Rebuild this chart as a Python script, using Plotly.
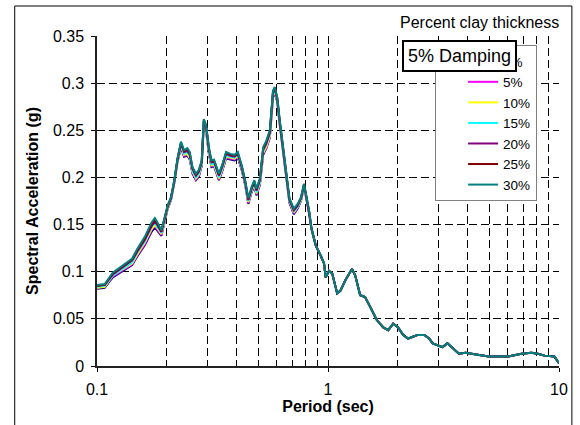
import plotly.graph_objects as go

# Response spectra (5% damping) for increasing clay layer thickness.
# Periods where the spectra separate (T < 0.85 s)
period_head = [0.100, 0.108, 0.117, 0.130, 0.142, 0.150, 0.161, 0.172, 0.178, 0.183,
               0.190, 0.202, 0.209, 0.216, 0.223, 0.231, 0.238, 0.246, 0.252, 0.259,
               0.268, 0.276, 0.284, 0.290, 0.297, 0.305, 0.313, 0.321, 0.329, 0.337,
               0.348, 0.362, 0.378, 0.394, 0.407, 0.423, 0.438, 0.452, 0.467, 0.480,
               0.490, 0.507, 0.524, 0.541, 0.560, 0.578, 0.588, 0.603, 0.618, 0.638,
               0.659, 0.681, 0.711, 0.739, 0.764, 0.787, 0.802, 0.829, 0.848]

sa_0 = [0.082, 0.083, 0.094, 0.101, 0.107, 0.117, 0.128, 0.142, 0.147, 0.143,
        0.138, 0.166, 0.176, 0.194, 0.216, 0.232, 0.222, 0.223, 0.219, 0.204,
        0.197, 0.201, 0.212, 0.256, 0.248, 0.225, 0.211, 0.212, 0.204, 0.197,
        0.206, 0.220, 0.219, 0.218, 0.221, 0.208, 0.192, 0.172, 0.184, 0.191,
        0.181, 0.192, 0.224, 0.231, 0.242, 0.285, 0.290, 0.280, 0.256, 0.227,
        0.199, 0.173, 0.161, 0.167, 0.175, 0.190, 0.180, 0.162, 0.145]
sa_5 = [0.083, 0.084, 0.095, 0.102, 0.108, 0.118, 0.129, 0.144, 0.149, 0.144,
        0.139, 0.167, 0.176, 0.194, 0.217, 0.233, 0.223, 0.224, 0.220, 0.205,
        0.198, 0.202, 0.213, 0.257, 0.249, 0.226, 0.212, 0.213, 0.205, 0.198,
        0.207, 0.221, 0.220, 0.219, 0.222, 0.209, 0.193, 0.173, 0.185, 0.192,
        0.182, 0.193, 0.225, 0.232, 0.243, 0.286, 0.291, 0.281, 0.257, 0.228,
        0.200, 0.174, 0.162, 0.168, 0.176, 0.190, 0.180, 0.162, 0.145]
sa_10 = [0.083, 0.084, 0.096, 0.103, 0.109, 0.119, 0.131, 0.145, 0.150, 0.146,
         0.140, 0.167, 0.177, 0.195, 0.217, 0.234, 0.224, 0.225, 0.221, 0.206,
         0.199, 0.203, 0.214, 0.258, 0.250, 0.227, 0.213, 0.214, 0.206, 0.199,
         0.208, 0.222, 0.221, 0.220, 0.223, 0.210, 0.194, 0.174, 0.186, 0.193,
         0.183, 0.194, 0.226, 0.233, 0.244, 0.287, 0.292, 0.282, 0.258, 0.229,
         0.201, 0.175, 0.163, 0.169, 0.176, 0.191, 0.181, 0.163, 0.145]
sa_15 = [0.084, 0.085, 0.096, 0.104, 0.110, 0.121, 0.132, 0.147, 0.152, 0.147,
         0.141, 0.168, 0.177, 0.195, 0.218, 0.235, 0.225, 0.227, 0.223, 0.207,
         0.200, 0.204, 0.215, 0.259, 0.251, 0.228, 0.214, 0.215, 0.207, 0.200,
         0.209, 0.223, 0.222, 0.221, 0.224, 0.210, 0.194, 0.175, 0.187, 0.194,
         0.184, 0.195, 0.228, 0.235, 0.246, 0.288, 0.293, 0.282, 0.258, 0.229,
         0.201, 0.175, 0.164, 0.169, 0.177, 0.191, 0.181, 0.163, 0.146]
sa_20 = [0.085, 0.086, 0.097, 0.105, 0.112, 0.122, 0.134, 0.148, 0.153, 0.149,
         0.142, 0.169, 0.178, 0.196, 0.219, 0.236, 0.227, 0.228, 0.224, 0.209,
         0.202, 0.206, 0.216, 0.260, 0.253, 0.230, 0.216, 0.217, 0.209, 0.202,
         0.211, 0.225, 0.223, 0.222, 0.225, 0.211, 0.195, 0.176, 0.188, 0.195,
         0.186, 0.197, 0.229, 0.236, 0.247, 0.290, 0.294, 0.283, 0.259, 0.230,
         0.202, 0.176, 0.165, 0.170, 0.178, 0.192, 0.182, 0.163, 0.146]
sa_25 = [0.085, 0.086, 0.098, 0.106, 0.113, 0.124, 0.135, 0.150, 0.155, 0.150,
         0.143, 0.169, 0.178, 0.196, 0.219, 0.237, 0.228, 0.230, 0.226, 0.210,
         0.203, 0.207, 0.217, 0.261, 0.254, 0.231, 0.217, 0.218, 0.210, 0.203,
         0.212, 0.226, 0.224, 0.223, 0.226, 0.212, 0.196, 0.177, 0.189, 0.196,
         0.187, 0.198, 0.231, 0.238, 0.249, 0.291, 0.295, 0.284, 0.260, 0.231,
         0.203, 0.177, 0.166, 0.171, 0.178, 0.193, 0.183, 0.164, 0.146]
sa_30 = [0.086, 0.087, 0.099, 0.107, 0.114, 0.125, 0.137, 0.152, 0.157, 0.152,
         0.144, 0.170, 0.179, 0.197, 0.220, 0.238, 0.229, 0.231, 0.227, 0.211,
         0.204, 0.208, 0.218, 0.262, 0.255, 0.232, 0.218, 0.219, 0.211, 0.204,
         0.213, 0.227, 0.225, 0.224, 0.227, 0.213, 0.197, 0.178, 0.190, 0.197,
         0.188, 0.199, 0.232, 0.239, 0.250, 0.292, 0.296, 0.285, 0.261, 0.232,
         0.204, 0.178, 0.167, 0.172, 0.179, 0.193, 0.183, 0.164, 0.146]

# Long-period branch, common to all clay thicknesses
period_tail = [0.885, 0.930, 0.961, 0.977, 1.010, 1.043, 1.096, 1.132, 1.189, 1.270,
               1.312, 1.378, 1.448, 1.521, 1.624, 1.735, 1.823, 1.915, 2.011, 2.113,
               2.219, 2.331, 2.448, 2.613, 2.745, 2.838, 2.982, 3.131, 3.289, 3.455,
               3.687, 3.938, 4.345, 4.955, 6.030, 6.882, 7.593, 8.101, 8.653, 9.548,
               10.0]
sa_tail = [0.128, 0.117, 0.109, 0.094, 0.101, 0.098, 0.077, 0.080, 0.091, 0.103,
           0.096, 0.075, 0.073, 0.063, 0.049, 0.041, 0.038, 0.045, 0.041, 0.033,
           0.029, 0.031, 0.033, 0.033, 0.029, 0.024, 0.022, 0.020, 0.024, 0.019,
           0.013, 0.014, 0.012, 0.010, 0.010, 0.013, 0.014, 0.013, 0.011, 0.010,
           0.003]

series_names = ["0%", "5%", "10%", "15%", "20%", "25%", "30%"]
series_heads = [sa_0, sa_5, sa_10, sa_15, sa_20, sa_25, sa_30]
series_colors = ["#000080", "#FF00FF", "#FFFF00", "#00FFFF", "#800080", "#800000", "#008080"]

y_ticks = [0, 0.05, 0.1, 0.15, 0.2, 0.25, 0.3, 0.35]
x_ticks = [0.1, 1, 10]
x_ticktext = ["0.1", "1", "10"]
x_minor = [0.2, 0.3, 0.4, 0.5, 0.6, 0.7, 0.8, 0.9, 2, 3, 4, 5, 6, 7, 8, 9]

FONT = "Liberation Sans, Arial, sans-serif"
period = period_head + period_tail

fig = go.Figure()
for name, head, color in zip(series_names, series_heads, series_colors):
    fig.add_trace(go.Scatter(
        x=period, y=head + sa_tail, mode="lines", name=name,
        line=dict(color=color, width=2),
    ))

grid_dash = "8px,4px"
fig.update_layout(
    width=580, height=425,
    margin=dict(l=97, r=17, t=36, b=59),
    paper_bgcolor="white", plot_bgcolor="white",
    font=dict(family=FONT, size=16, color="black"),
    showlegend=True,
    legend=dict(
        x=0.7318, y=0.9727, xanchor="left", yanchor="top",
        bgcolor="white", bordercolor="#808080", borderwidth=1,
        font=dict(size=13.5, color="black"),
        itemwidth=30, indentation=27,
        entrywidth=60, entrywidthmode="pixels",
        traceorder="normal",
    ),
    xaxis=dict(
        type="log", range=[-1, 1],
        tickvals=x_ticks, ticktext=x_ticktext,
        ticks="outside", ticklen=4, tickcolor="black",
        showline=True, linecolor="#222", linewidth=1.5,
        showgrid=True, gridcolor="black", gridwidth=1, griddash=grid_dash,
        minor=dict(tickvals=x_minor, showgrid=True, gridcolor="black",
                   gridwidth=1, griddash=grid_dash, ticks=""),
        zeroline=False, ticklabelstandoff=4,
        title=dict(text="<b>Period (sec)</b>", standoff=3,
                   font=dict(size=16, color="black")),
    ),
    yaxis=dict(
        range=[0, 0.35], tickvals=y_ticks,
        ticks="outside", ticklen=4, tickcolor="black",
        showline=True, linecolor="#222", linewidth=1.5,
        showgrid=True, gridcolor="black", gridwidth=1, griddash=grid_dash,
        zeroline=False, ticklabelstandoff=4,
        title=dict(text="<b>Spectral Acceleration (g)</b>", standoff=10,
                   font=dict(size=16, color="black")),
    ),
    shapes=[
        dict(type="rect", xref="paper", yref="paper",
             x0=-0.1781, x1=1.0279, y0=-0.2, y1=1.0909,
             line=dict(color="black", width=1), layer="below"),
    ],
    annotations=[
        dict(text="Percent clay thickness", xref="paper", yref="paper",
             x=1.0043, y=1.0394, xanchor="right", yanchor="middle",
             showarrow=False, font=dict(size=16, color="black")),
        dict(text="5% Damping", xref="paper", yref="paper",
             x=0.7854, y=0.9409, xanchor="center", yanchor="middle",
             showarrow=False, font=dict(size=18, color="black"),
             bgcolor="white", bordercolor="black", borderwidth=2, borderpad=4),
    ],
)

fig.write_html("out.html")
